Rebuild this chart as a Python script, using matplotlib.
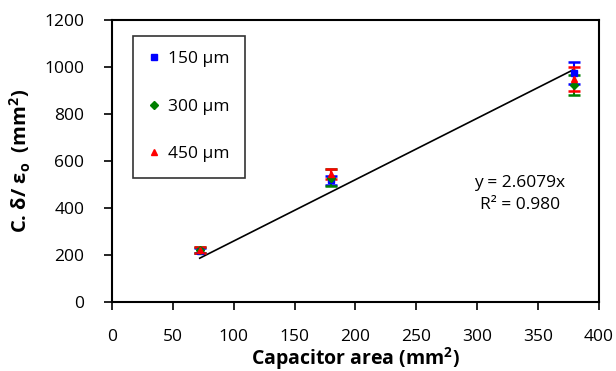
import numpy as np
import matplotlib.pyplot as plt

plt.rcParams['font.family'] = ['Open Sans', 'DejaVu Sans']

area = [72, 180, 380]
v150 = [220, 518, 975]
e150 = [12, 20, 45]
v300 = [222, 530, 925]
e300 = [12, 35, 43]
v450 = [222, 545, 950]
e450 = [12, 22, 50]
slope = 2.6079
r2 = 0.980

fig = plt.figure(figsize=(6.16, 3.71), dpi=100)
ax = fig.add_axes([0.182, 0.185, 0.79, 0.761])

xs = np.array([min(area), max(area)])
ax.plot(xs, slope * xs, color='black', lw=1.2, zorder=1)

ax.errorbar(area, v150, yerr=e150, fmt='s', color='#0000ff', ms=5,
            elinewidth=1.5, capsize=4, capthick=1.8, label='150 µm', zorder=3)
ax.errorbar(area, v300, yerr=e300, fmt='D', color='#008000', ms=4,
            elinewidth=1.5, capsize=4, capthick=1.8, label='300 µm', zorder=3)
ax.errorbar(area, v450, yerr=e450, fmt='^', color='#ff0000', ms=5,
            elinewidth=1.5, capsize=4, capthick=1.8, label='450 µm', zorder=3)

ax.set_xlim(0, 400)
ax.set_ylim(0, 1200)
ax.set_xticks(np.arange(0, 401, 50))
ax.set_yticks(np.arange(0, 1201, 200))
ax.tick_params(direction='out', length=6, width=1.2, labelsize=12.5)
ax.tick_params(axis='y', pad=14)
ax.tick_params(axis='x', pad=13)
for s in ax.spines.values():
    s.set_linewidth(1.5)

ax.set_xlabel('Capacitor area (mm$^\\mathregular{2}$)', fontsize=14,
              fontweight='bold', labelpad=0)
ax.set_ylabel('C. δ/ ε$_\\mathregular{o}$  (mm$^\\mathregular{2}$)', fontsize=14.5,
              fontweight='bold', labelpad=8)

ax.text(335, 509, 'y = %.4fx' % slope, fontsize=12.5, ha='center', va='center')
ax.text(335, 414, 'R² = %.3f' % r2, fontsize=12.5, ha='center', va='center')

handles, labels = ax.get_legend_handles_labels()
handles = [h[0] for h in handles]
leg = ax.legend(handles, labels, loc='upper left', bbox_to_anchor=(0.043, 0.945),
                fontsize=12.5, frameon=True, fancybox=False, edgecolor='black',
                labelspacing=1.8, handlelength=0.6, handletextpad=0.5,
                borderpad=0.9, borderaxespad=0)
leg.get_frame().set_linewidth(1.2)

fig.savefig('out.png', dpi=100)
